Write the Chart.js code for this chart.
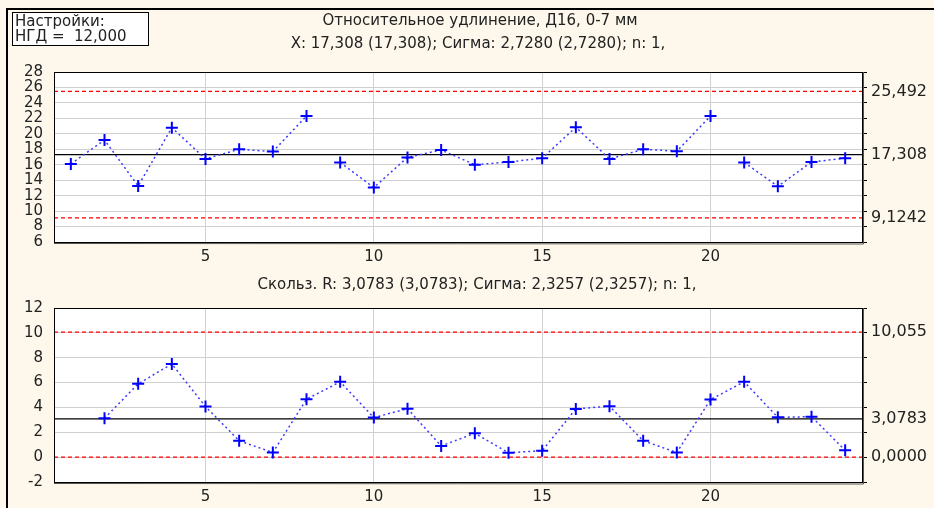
<!doctype html>
<html>
<head>
<meta charset="utf-8" />
<title>Относительное удлинение, Д16</title>
<style>
  html, body { margin: 0; padding: 0; }
  body { width: 934px; height: 508px; background: #fef8ec; position: relative; overflow: hidden; }
  .frame { position: absolute; left: 6px; top: 8px; right: 0; bottom: 0; border-left: 2px solid #000; border-top: 2px solid #000; }
  canvas { position: absolute; left: 0; }
  #top { top: 0; }
  #bottom { top: 268px; }
</style>
<script src="https://cdn.jsdelivr.net/npm/chart.js"></script>
</head>
<body>
<div class="frame"></div>
<canvas id="top" width="934" height="268"></canvas>
<canvas id="bottom" width="934" height="240"></canvas>
<script>
// sample numbers
const samples = [1, 2, 3, 4, 5, 6, 7, 8, 9, 10, 11, 12, 13, 14, 15, 16, 17, 18, 19, 20, 21, 22, 23, 24];
// individual values (X chart)
const xValues = [16.1, 19.2, 13.25, 20.8, 16.75, 18.0, 17.7, 22.3, 16.3, 13.05, 16.95, 17.9,
                 16.0, 16.35, 16.85, 20.85, 16.75, 18.0, 17.75, 22.3, 16.3, 13.2, 16.35, 16.85];
// moving range, starts at sample 2
const mrSamples = samples.slice(1);
const mrValues = [3.13, 5.9, 7.5, 4.07, 1.32, 0.37, 4.66, 6.06, 3.18, 3.9, 0.9,
                  1.92, 0.35, 0.52, 3.88, 4.1, 1.32, 0.37, 4.63, 6.06, 3.2, 3.26, 0.55];
// line is broken after these samples on the X chart
const xBreaks = [8, 20];

// control limits: UCL, CL, LCL
const xLimits = [25.492, 17.308, 9.1242];
const xLimitLabels = ['25,492', '17,308', '9,1242'];
const mrLimits = [10.055, 3.0783, 0.0];
const mrLimitLabels = ['10,055', '3,0783', '0,0000'];

const xTicks = [5, 10, 15, 20];
const xRange = [0.5, 24.5];
const topRange = [6, 28];
const bottomRange = [-2, 12];

const topTitle = ['Относительное удлинение, Д16, 0-7 мм',
                  'X: 17,308 (17,308); Сигма: 2,7280 (2,7280); n: 1,'];
const bottomTitle = 'Скольз. R: 3,0783 (3,0783); Сигма: 2,3257 (2,3257); n: 1,';
const settings = ['Настройки:', 'НГД =  12,000'];

Chart.defaults.font.family = '"DejaVu Sans", sans-serif';
Chart.defaults.font.size = 15;
Chart.defaults.color = '#222';

const SERIES = '#3a3aff';
const GRID = '#d0d0d0';

// white plot, black frame, texts
const plotFrame = {
  id: 'plotFrame',
  beforeDatasetsDraw(chart) {
    const a = chart.chartArea, c = chart.ctx;
    c.save();
    c.globalCompositeOperation = 'destination-over';
    c.fillStyle = '#fff';
    c.fillRect(a.left, a.top, a.right - a.left, a.bottom - a.top);
    c.restore();
  },
  afterDraw(chart) {
    const a = chart.chartArea, c = chart.ctx;
    c.save();
    c.strokeStyle = '#000';
    c.lineWidth = 1;
    c.strokeRect(a.left + 0.5, a.top + 0.5, a.right - a.left, a.bottom - a.top);
    c.strokeStyle = '#555';
    c.beginPath();
    c.moveTo(a.right + 1.5, a.top);
    c.lineTo(a.right + 1.5, a.bottom + 2);
    c.lineTo(a.left, a.bottom + 1.5);
    c.stroke();
    const t = chart.options.plugins.plotFrame || {};
    c.fillStyle = '#222';
    c.textAlign = 'center';
    c.textBaseline = 'middle';
    c.font = '15px "DejaVu Sans", sans-serif';
    (t.texts || []).forEach(s => c.fillText(s.text, s.x, s.y));
    if (t.box) {
      c.fillStyle = '#fff';
      c.fillRect(12, 12, 136, 33);
      c.strokeStyle = '#000';
      c.strokeRect(12.5, 12.5, 136, 33);
      c.fillStyle = '#222';
      c.textAlign = 'left';
      c.fillText(t.box[0], 15, 22);
      c.fillText(t.box[1], 15, 37);
    }
    c.restore();
  }
};

function limitSets(limits) {
  return limits.map((v, i) => ({
    data: [{ x: xRange[0], y: v }, { x: xRange[1], y: v }],
    borderColor: i === 1 ? '#000' : '#ff0000',
    borderWidth: 1.2,
    borderDash: i === 1 ? [] : [4, 3],
    pointRadius: 0
  }));
}

function makeChart(id, xs, ys, breaks, range, limits, limitLabels, frameOpts, padTop) {
  const grid = [];
  for (let v = range[0]; v <= range[1]; v += 2) grid.push(v);
  const rightTicks = grid.filter(v => !limits.includes(v)).concat(limits);
  return new Chart(document.getElementById(id), {
    type: 'line',
    data: {
      datasets: [
        {
          data: xs.map((x, i) => ({ x, y: ys[i] })),
          borderColor: SERIES,
          borderWidth: 1.5,
          borderDash: [2, 3],
          segment: { borderColor: ctx => breaks.includes(xs[ctx.p0DataIndex]) ? 'transparent' : SERIES },
          pointStyle: 'cross',
          pointRadius: 6,
          pointBorderWidth: 2,
          pointBorderColor: '#0000ff'
        },
        ...limitSets(limits)
      ]
    },
    options: {
      responsive: false,
      animation: false,
      layout: { padding: { top: padTop, left: 0, right: 0, bottom: 0 } },
      plugins: { legend: { display: false }, tooltip: { enabled: false }, plotFrame: frameOpts },
      scales: {
        x: {
          type: 'linear', min: xRange[0], max: xRange[1],
          afterBuildTicks: s => { s.ticks = xTicks.map(v => ({ value: v })); },
          afterFit: s => { s.height = 26; },
          ticks: { autoSkip: false, maxRotation: 0, padding: 6 },
          grid: { color: GRID, drawTicks: false },
          border: { display: false }
        },
        y: {
          min: range[0], max: range[1],
          afterFit: s => { s.width = 54; },
          ticks: { stepSize: 2, padding: 11, autoSkip: false },
          grid: { color: GRID, drawTicks: false },
          border: { display: false }
        },
        y2: {
          position: 'right', min: range[0], max: range[1],
          afterBuildTicks: s => { s.ticks = rightTicks.map(v => ({ value: v })); },
          afterFit: s => { s.width = 72; },
          ticks: {
            autoSkip: false, padding: 4, font: { size: 16 },
            callback: v => { const k = limits.indexOf(v); return k >= 0 ? limitLabels[k] : ''; }
          },
          grid: {
            drawOnChartArea: false, tickLength: 5,
            color: ctx => (ctx.tick && limits.includes(ctx.tick.value) && !grid.includes(ctx.tick.value)) ? 'transparent' : '#000'
          },
          border: { display: false }
        }
      }
    },
    plugins: [plotFrame]
  });
}

makeChart('top', samples, xValues, xBreaks, topRange, xLimits, xLimitLabels, {
  box: settings,
  texts: [{ text: topTitle[0], x: 480, y: 21 }, { text: topTitle[1], x: 478, y: 44 }]
}, 72);

makeChart('bottom', mrSamples, mrValues, [], bottomRange, mrLimits, mrLimitLabels, {
  texts: [{ text: bottomTitle, x: 477, y: 17 }]
}, 40);
</script>
</body>
</html>
